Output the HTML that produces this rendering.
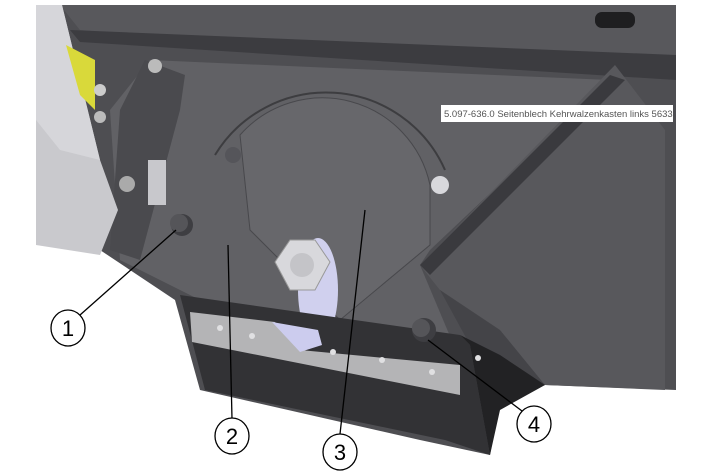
<!DOCTYPE html>
<html><head><meta charset="utf-8"><style>
html,body{margin:0;padding:0;background:#fff;}
svg{display:block}
</style></head><body>
<svg width="713" height="476" viewBox="0 0 713 476" xmlns="http://www.w3.org/2000/svg">
<rect width="713" height="476" fill="#fff"/>
<polygon points="60,5 676,5 676,390 545,385 500,400 490,455 420,440 200,390 175,300 130,270 100,250" fill="#4e4e52"/>
<polygon points="60,5 676,5 676,80 80,30" fill="#58585c"/>
<polygon points="70,30 676,55 676,80 80,42" fill="#3c3c40"/>
<rect x="595" y="12" width="40" height="16" rx="7" fill="#1e1e20"/>
<polygon points="150,60 610,80 430,250 420,265 460,360 300,350 180,290 120,260 110,110" fill="#616165"/>
<polygon points="615,65 665,130 665,390 545,385 440,290 420,265" fill="#58585c"/>
<polygon points="420,265 610,75 625,80 430,275" fill="#3a3a3e"/>
<polygon points="440,290 470,345 545,385 500,330" fill="#444448"/>
<path d="M215,155 A130,130 0 0 1 445,170" fill="none" stroke="#3d3d40" stroke-width="2"/>
<path d="M240,135 A110,110 0 0 1 430,185 L430,245 L340,320 L250,230 Z" fill="#67676b" stroke="#48484c" stroke-width="1"/>
<circle cx="440" cy="185" r="9" fill="#d8d8dc"/>
<circle cx="233" cy="155" r="8" fill="#55555a"/>
<polygon points="145,60 185,75 180,110 140,260 110,250 120,110" fill="#4a4a4e"/>
<circle cx="155" cy="66" r="7" fill="#bbb"/>
<circle cx="127" cy="184" r="8" fill="#aaa"/>
<rect x="148" y="160" width="18" height="45" fill="#c8c8cc"/>
<polygon points="36,5 62,5 100,160 118,210 100,255 36,245" fill="#c9c9cd"/>
<polygon points="36,5 62,5 100,160 60,150 36,120" fill="#d6d6da"/>
<polygon points="66,45 95,60 95,110 80,95" fill="#d9d93a"/>
<circle cx="100" cy="90" r="6" fill="#ccc"/><circle cx="100" cy="117" r="6" fill="#bbb"/>
<circle cx="182" cy="225" r="11" fill="#3e3e42"/><circle cx="179" cy="223" r="9" fill="#555559"/>
<ellipse cx="318" cy="290" rx="20" ry="52" fill="#d0d0ee"/>
<!-- bottom bracket -->
<polygon points="180,295 460,335 470,345 490,455 445,440 205,390" fill="#323235"/>
<polygon points="460,335 500,355 545,385 500,410 490,455 470,345" fill="#222224"/>
<polygon points="190,312 275,322 300,350 460,365 460,395 192,342" fill="#b4b4b6"/>
<polygon points="272,322 300,352 322,345 318,330" fill="#ccccee"/>
<g fill="#e0e0e2"><circle cx="220" cy="328" r="3"/><circle cx="252" cy="336" r="3"/><circle cx="333" cy="352" r="3"/><circle cx="382" cy="360" r="3"/><circle cx="432" cy="372" r="3"/><circle cx="478" cy="358" r="3"/></g>
<polygon points="275,262 290,240 315,240 330,262 315,290 290,290" fill="#d8d8dc" stroke="#999"/>
<circle cx="302" cy="265" r="12" fill="#c4c4c8"/>
<circle cx="424" cy="330" r="12" fill="#3e3e42"/><circle cx="421" cy="328" r="9" fill="#555559"/>
<rect x="441" y="105" width="232" height="17" fill="#fff"/>
<text x="444" y="117" font-family="Liberation Sans, sans-serif" font-size="9.5" fill="#555">5.097-636.0 Seitenblech Kehrwalzenkasten links 5633</text>
<g stroke="#000" stroke-width="1.3" fill="none">
<line x1="80" y1="315" x2="176" y2="230"/>
<line x1="232" y1="419" x2="228" y2="245"/>
<line x1="340" y1="434" x2="365" y2="210"/>
<line x1="522" y1="411" x2="428" y2="340"/>
</g>
<g stroke="#000" stroke-width="1.3" fill="#fff">
<ellipse cx="68" cy="328" rx="17" ry="18"/>
<ellipse cx="232" cy="436" rx="17" ry="18"/>
<ellipse cx="340" cy="452" rx="17" ry="18"/>
<ellipse cx="534" cy="424" rx="17" ry="18"/>
</g>
<g font-family="Liberation Sans, sans-serif" font-size="22" text-anchor="middle" fill="#000">
<text x="68" y="336">1</text><text x="232" y="444">2</text><text x="340" y="460">3</text><text x="534" y="432">4</text>
</g>
</svg>
</body></html>
